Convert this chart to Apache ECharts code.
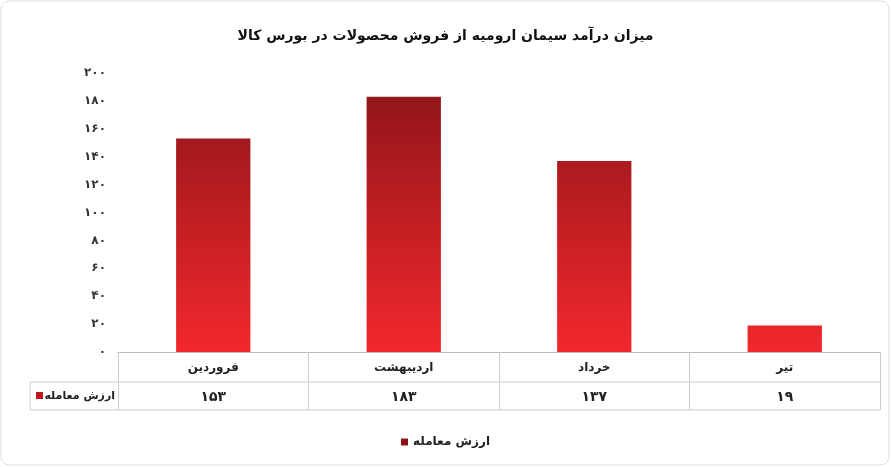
<!DOCTYPE html>
<html><head><meta charset="utf-8">
<script src="https://cdn.jsdelivr.net/npm/echarts@6/dist/echarts.min.js"></script>
<style>html,body{margin:0;padding:0;background:#fff}#c{width:891px;height:467px}</style>
</head><body><div id="c"></div>
<script>
const categories = ['فروردین','اردیبهشت','خرداد','تیر'];
const values = [153,183,137,19];
const seriesName = 'ارزش معامله';
const title = 'میزان درآمد سیمان ارومیه از فروش محصولات در بورس کالا';
const fa = n => String(n).replace(/\d/g, d => '۰۱۲۳۴۵۶۷۸۹'[d]);
const font = 'DejaVu Sans';
const chart = echarts.init(document.getElementById('c'));
const grad = new echarts.graphic.LinearGradient(0,73,0,352,[{offset:0,color:'#8a1418'},{offset:1,color:'#f2282c'}],true);
chart.setOption({
  animation:false,
  title:{text:title,left:'center',top:24,textStyle:{fontFamily:font,fontSize:14,fontWeight:'bold',color:'#111'}},
  grid:{left:118,right:11,top:73,bottom:115},
  legend:{bottom:14,left:'center',itemWidth:7,itemHeight:7,icon:'rect',textStyle:{fontFamily:font,fontSize:12,fontWeight:'bold',color:'#222'},data:[seriesName]},
  xAxis:[
    {type:'category',data:categories,position:'bottom',
     axisLine:{lineStyle:{color:'#bbb'}},axisTick:{show:true,length:58,lineStyle:{color:'#ccc'}},
     axisLabel:{margin:10,fontFamily:font,fontSize:12,fontWeight:'bold',color:'#222'}},
    {type:'category',data:values.map(fa),position:'bottom',offset:30,
     axisLine:{show:false},axisTick:{show:false},
     axisLabel:{margin:8,fontFamily:font,fontSize:14,fontWeight:'bold',color:'#222'}}
  ],
  yAxis:{type:'value',min:0,max:200,interval:20,splitLine:{show:false},axisLine:{show:false},axisTick:{show:false},
    axisLabel:{formatter:v=>fa(v),fontFamily:font,fontSize:12,fontWeight:'bold',color:'#333',margin:12}},
  series:[{type:'bar',name:seriesName,data:values,barWidth:'39%',itemStyle:{color:grad}}],
  graphic:[
    {type:'rect',shape:{x:1,y:1,width:888,height:464,r:8},style:{fill:'none',stroke:'#ddd',lineWidth:1}},
    {type:'line',shape:{x1:30,y1:382,x2:880,y2:382},style:{stroke:'#ccc'}},
    {type:'line',shape:{x1:30,y1:410,x2:880,y2:410},style:{stroke:'#ccc'}},
    {type:'line',shape:{x1:30,y1:382,x2:30,y2:410},style:{stroke:'#ccc'}},
    {type:'rect',shape:{x:36,y:392,width:7,height:7},style:{fill:'#c0151b'}},
    {type:'text',style:{x:115,y:396,text:seriesName,fontFamily:font,fontSize:11,fontWeight:'bold',fill:'#222',verticalAlign:'middle',align:'right'}}
  ]
});
</script></body></html>
